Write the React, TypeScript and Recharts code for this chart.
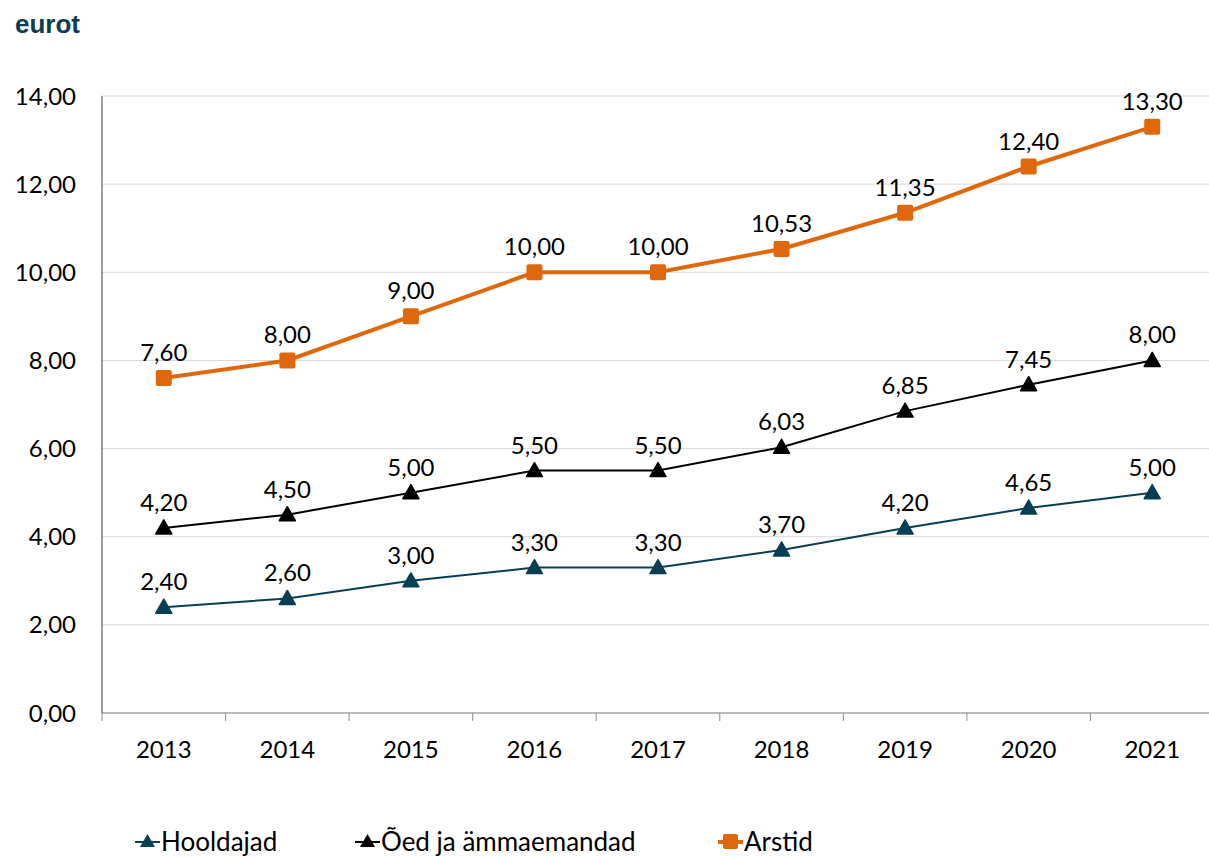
import React from 'react';
import {
  LineChart,
  Line,
  XAxis,
  YAxis,
  CartesianGrid,
  Legend,
  LabelList
} from 'recharts';

const years = ['2013', '2014', '2015', '2016', '2017', '2018', '2019', '2020', '2021'];
const hooldajad = [2.4, 2.6, 3.0, 3.3, 3.3, 3.7, 4.2, 4.65, 5.0];
const oed = [4.2, 4.5, 5.0, 5.5, 5.5, 6.03, 6.85, 7.45, 8.0];
const arstid = [7.6, 8.0, 9.0, 10.0, 10.0, 10.53, 11.35, 12.4, 13.3];
const yTicks = [0, 2, 4, 6, 8, 10, 12, 14];

const TEAL = '#083f55';
const BLACK = '#000000';
const ORANGE = '#e0680c';
const FONT = 'Lato, "Noto Sans", sans-serif';

const data = years.map((y, i) => ({
  i,
  year: y,
  hooldajad: hooldajad[i],
  oed: oed[i],
  arstid: arstid[i]
}));

// ticks on category boundaries (half steps) plus labels on integers
const xTicks = years.flatMap((_, i) => [i - 0.5, i]).concat(years.length - 0.5);

const fmt = (v: any) => Number(v).toFixed(2).replace('.', ',');

const Triangle = ({ cx, cy, fill }: any) => {
  if (cx == null || cy == null) return null;
  return (
    <polygon
      points={`${cx},${cy - 8} ${cx + 8},${cy + 6} ${cx - 8},${cy + 6}`}
      fill={fill}
      stroke={fill}
      strokeWidth={1.5}
      strokeLinejoin="round"
    />
  );
};

const Square = ({ cx, cy, fill }: any) => {
  if (cx == null || cy == null) return null;
  return <rect x={cx - 8} y={cy - 8} width={16} height={16} rx={2} fill={fill} />;
};

const XTick = ({ x, y, payload }: any) => {
  const v = payload.value;
  if (!Number.isInteger(v)) {
    return <line x1={x} x2={x} y1={y} y2={y + 8} stroke="#8c8c8c" strokeWidth={1} />;
  }
  return (
    <text x={x} y={y} dy={45} textAnchor="middle" fill="#000" fontSize={24} fontFamily={FONT}>
      {years[v]}
    </text>
  );
};

const legendItems = [
  { name: 'Hooldajad', color: TEAL, shape: 'tri', w: 220 },
  { name: 'Õed ja ämmaemandad', color: BLACK, shape: 'tri', w: 363 },
  { name: 'Arstid', color: ORANGE, shape: 'sq', w: 150 }
];

const LegendContent = () => (
  <div
    style={{
      display: 'flex',
      paddingLeft: 135,
      height: 30,
      lineHeight: '30px',
      fontFamily: FONT,
      fontSize: 26
    }}
  >
    {legendItems.map((it) => (
      <div key={it.name} style={{ display: 'flex', alignItems: 'center', width: it.w }}>
        <svg width={25} height={20} style={{ marginRight: 1 }}>
          <line x1={0} x2={25} y1={11} y2={11} stroke={it.color} strokeWidth={it.shape === 'sq' ? 4 : 2} />
          {it.shape === 'tri' ? (
            <polygon points="12.5,3 20,16 5,16" fill={it.color} />
          ) : (
            <rect x={5} y={3} width={15} height={15} rx={2} fill={it.color} />
          )}
        </svg>
        <span style={{ color: '#000' }}>{it.name}</span>
      </div>
    ))}
  </div>
);

const labelStyle = { fontSize: 24, fontFamily: FONT, fill: '#000' };

export default function App() {
  return (
    <div style={{ position: 'absolute', left: 0, top: 0, width: 1209, height: 858, overflow: 'hidden', background: '#fff' }}>
      <div
        style={{
          position: 'absolute',
          left: 15,
          top: 9,
          fontFamily: '"Liberation Sans", Arial, sans-serif',
          fontWeight: 'bold',
          fontSize: 26,
          color: '#0b3c52'
        }}
      >
        eurot
      </div>
      <LineChart width={1230} height={858} data={data} margin={{ top: 96, right: 16, left: 0, bottom: 0 }}>
        <CartesianGrid horizontal vertical={false} stroke="#d9d9d9" />
        <XAxis
          dataKey="i"
          type="number"
          domain={[-0.5, 8.5]}
          ticks={xTicks}
          interval={0}
          tick={<XTick />}
          tickLine={false}
          tickSize={0}
          tickMargin={0}
          height={113}
          axisLine={{ stroke: '#8c8c8c' }}
        />
        <YAxis
          domain={[0, 14]}
          ticks={yTicks}
          width={102}
          tickFormatter={fmt}
          tickLine={false}
          tickSize={0}
          tickMargin={26}
          axisLine={{ stroke: '#404040' }}
          tick={{ fill: '#000', fontSize: 24, fontFamily: FONT }}
        />
        <Legend
          verticalAlign="bottom"
          height={32}
          wrapperStyle={{ bottom: 0 }}
          content={<LegendContent />}
        />
        <Line
          dataKey="hooldajad"
          stroke={TEAL}
          strokeWidth={2}
          dot={<Triangle fill={TEAL} />}
          isAnimationActive={false}
        >
          <LabelList dataKey="hooldajad" position="top" offset={17} formatter={fmt} style={labelStyle} />
        </Line>
        <Line
          dataKey="oed"
          stroke={BLACK}
          strokeWidth={2}
          dot={<Triangle fill={BLACK} />}
          isAnimationActive={false}
        >
          <LabelList dataKey="oed" position="top" offset={17} formatter={fmt} style={labelStyle} />
        </Line>
        <Line
          dataKey="arstid"
          stroke={ORANGE}
          strokeWidth={4}
          dot={<Square fill={ORANGE} />}
          isAnimationActive={false}
        >
          <LabelList dataKey="arstid" position="top" offset={17} formatter={fmt} style={labelStyle} />
        </Line>
      </LineChart>
    </div>
  );
}
